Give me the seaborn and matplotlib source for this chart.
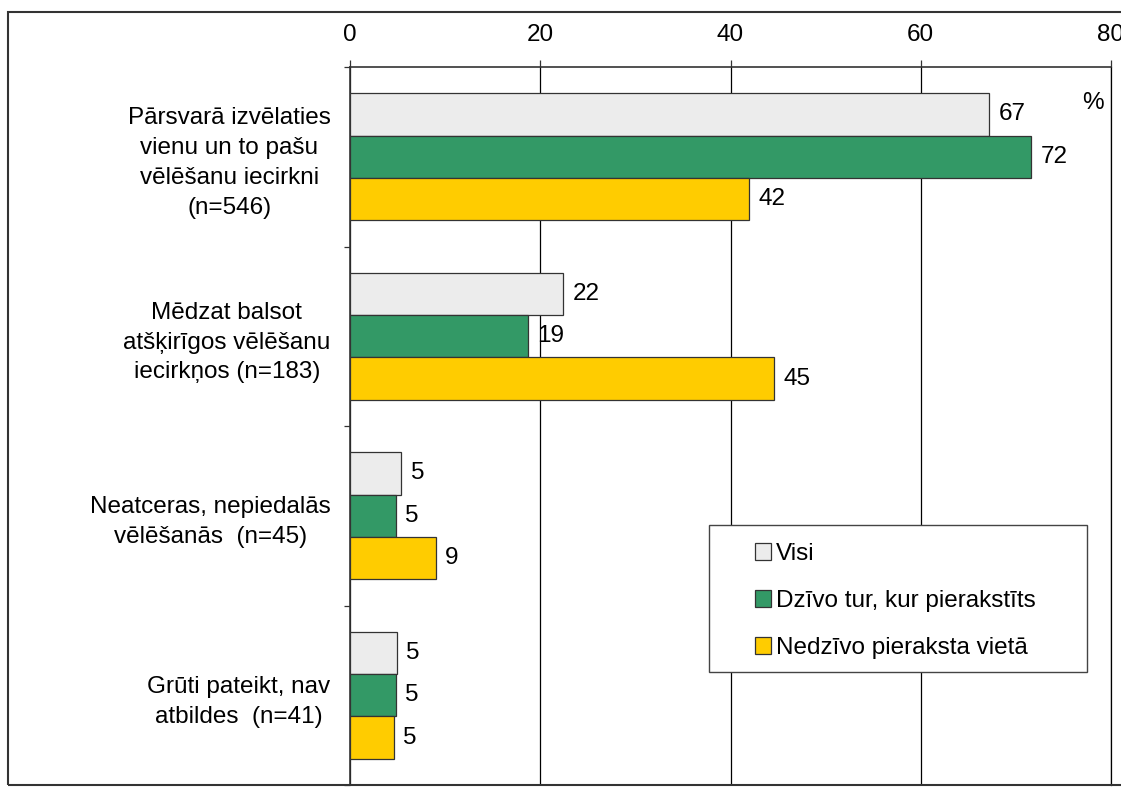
import pandas as pd
import numpy as np
import matplotlib.pyplot as plt
import seaborn as sns
from matplotlib.patches import Rectangle, Patch

# --- data ---
categories = [
    "Pārsvarā izvēlaties\nvienu un to pašu\nvēlēšanu iecirkni\n(n=546)",
    "Mēdzat balsot\natšķirīgos vēlēšanu\niecirkņos (n=183)",
    "Neatceras, nepiedalās\nvēlēšanās  (n=45)",
    "Grūti pateikt, nav\natbildes  (n=41)",
]
series = ["Visi", "Dzīvo tur, kur pierakstīts", "Nedzīvo pieraksta vietā"]
visi = [67.2, 22.4, 5.4, 4.9]
dzivo = [71.6, 18.7, 4.8, 4.8]
nedzivo = [41.9, 44.6, 9.0, 4.6]
x_ticks = [0, 20, 40, 60, 80]

colors = ["#ececec", "#339966", "#ffcc00"]
FS = 17.5

df = pd.DataFrame({
    "cat": categories * 3,
    "series": np.repeat(series, len(categories)),
    "val": visi + dzivo + nedzivo,
})

sns.set_style("white")
plt.rcParams["font.family"] = ["Liberation Sans", "DejaVu Sans"]
plt.rcParams["text.color"] = "black"

fig = plt.figure(figsize=(11.21, 7.92), dpi=100)
ax = fig.add_axes([350 / 1121, 7 / 792, 761 / 1121, 718 / 792])

sns.barplot(data=df, x="val", y="cat", hue="series", orient="h",
            palette=colors, saturation=1, width=0.71, edgecolor="#333333",
            linewidth=0.9, ax=ax, legend=False, zorder=3)

for cont in ax.containers:
    ax.bar_label(cont, fmt="%.0f", padding=7, fontsize=FS, color="black")

# axis on top
ax.set_xlim(0, 80)
ax.set_xticks(x_ticks)
ax.xaxis.tick_top()
ax.tick_params(axis="x", which="major", top=True, bottom=False, length=5,
               width=0.9, color="#333333", labelsize=FS, labelcolor="black", pad=10)
ax.grid(axis="x", color="black", linewidth=0.9, zorder=0)
ax.set_axisbelow(True)
ax.set_xlabel("")
ax.set_ylabel("")

# category labels: block right-aligned, lines centred; minor ticks at group boundaries
ax.set_ylim(3.5, -0.5)
ax.tick_params(axis="y", which="major", length=0, labelsize=FS, labelcolor="black", pad=14)
for lbl in ax.get_yticklabels():
    lbl.set_ha("right")
    lbl.set_multialignment("center")
    lbl.set_linespacing(1.46)
ax.set_yticks(np.arange(-0.5, 4, 1), minor=True)
ax.tick_params(axis="y", which="minor", length=4, width=0.9, color="#333333", left=True)

ax.spines["bottom"].set_visible(False)
ax.spines["right"].set_color("black")
ax.spines["right"].set_linewidth(0.9)
for side in ["top", "left"]:
    ax.spines[side].set_color("#333333")
    ax.spines[side].set_linewidth(1.2)

ax.text(0.976, 0.95, "%", transform=ax.transAxes, fontsize=FS, ha="center", va="center")

# outer frame
fig.patches.append(Rectangle((8 / 1121, 7 / 792), 1.2, 773 / 792, transform=fig.transFigure,
                             fill=False, edgecolor="#333333", linewidth=1.5))

# legend with its own box
fig.patches.append(Rectangle((709 / 1121, 1 - 672 / 792), 378 / 1121, 147 / 792,
                             transform=fig.transFigure, facecolor="white",
                             edgecolor="#444444", linewidth=1.0, zorder=5))
handles = [Patch(facecolor=c, edgecolor="#333333", linewidth=0.9) for c in colors]
fig.legend(handles, series, loc="upper left", bbox_to_anchor=(755 / 1121, 1 - 543 / 792),
           frameon=False, fontsize=FS, handlelength=0.66, handleheight=0.66,
           handletextpad=0.2, labelspacing=1.03, borderpad=0, borderaxespad=0)

fig.savefig("out.png", dpi=100)
